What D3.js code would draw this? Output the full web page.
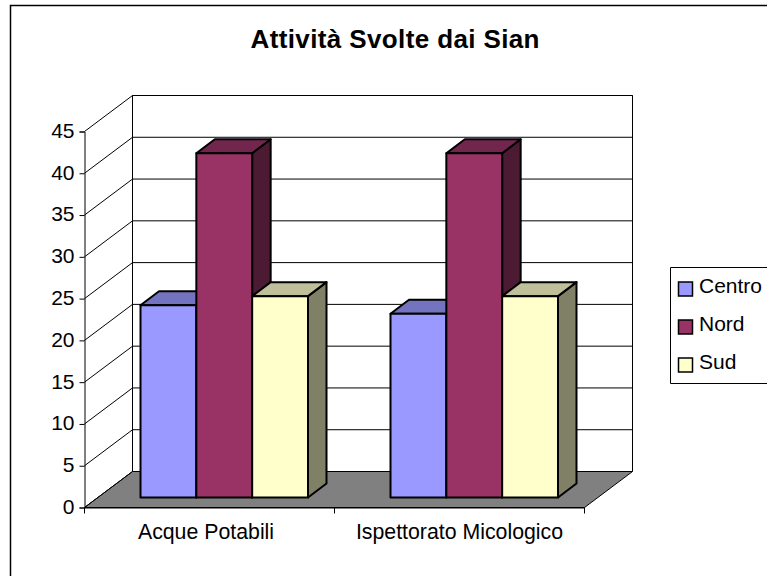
<!DOCTYPE html>
<html>
<head>
<meta charset="utf-8">
<script src="https://cdnjs.cloudflare.com/ajax/libs/d3/7.8.5/d3.min.js"></script>
<style>
  html, body { margin: 0; padding: 0; background: #fff; overflow: hidden; }
  text { font-family: "Liberation Sans", Arial, sans-serif; fill: #000; }
</style>
</head>
<body>
<div id="chart"></div>
<script>
/* DATA */
const categories = ["Acque Potabili", "Ispettorato Micologico"];
const seriesNames = ["Centro", "Nord", "Sud"];
const centro = [23, 22];
const nord = [41.2, 41.2];
const sud = [24.1, 24.1];
const yTicks = [0, 5, 10, 15, 20, 25, 30, 35, 40, 45];
const title = "Attività Svolte dai Sian";

const seriesValues = [centro, nord, sud];
const faceColors = ["#9999FF", "#993366", "#FFFFCC"];
const topColors = ["#7373BF", "#73264D", "#BFBF99"];
const sideColors = ["#4D4D80", "#4D1A33", "#808066"];

/* CONSTANTS AND GLOBALS */
const width = 767, height = 576;
const left = 84.5, right = 584.5, bottom = 507.5, topY = 131.5;
// 3d offsets of the back wall, and of the bars inside the floor
const wallX = 48, wallY = -36;
const gapX = 13, gapY = -10;
const barX = 18.5, barY = -14;

const svg = d3.select("#chart").append("svg")
  .attr("width", width)
  .attr("height", height);

// SCALES
const x0 = d3.scaleBand().domain(categories).range([left, right]);
const x1 = d3.scaleBand().domain(seriesNames).range([56, 223.5]);
const y = d3.scaleLinear().domain([0, 45]).range([bottom, topY]);

// outer frame, cut by the page on the right and at the bottom
svg.append("path")
  .attr("d", "M10.5," + height + "V5.5H" + width)
  .attr("fill", "none")
  .attr("stroke", "#000")
  .attr("stroke-width", 1.5);

svg.append("text")
  .attr("x", 395)
  .attr("y", 47.5)
  .attr("text-anchor", "middle")
  .attr("font-size", 26)
  .attr("font-weight", "bold")
  .attr("textLength", 289)
  .text(title);

// floor
svg.append("polygon")
  .attr("points", [
    [left, bottom], [right, bottom],
    [right + wallX, bottom + wallY], [left + wallX, bottom + wallY]
  ].join(" "))
  .attr("fill", "#808080")
  .attr("stroke", "#000");

// back wall and side wall
svg.append("path")
  .attr("d", "M" + (left + wallX) + "," + (bottom + wallY) +
    "V" + (topY + wallY) + "H" + (right + wallX) + "V" + (bottom + wallY))
  .attr("fill", "none")
  .attr("stroke", "#000");

const grid = svg.append("g");
grid.selectAll(".grid-back")
  .data(yTicks.slice(1))
  .enter().append("line")
  .attr("x1", left + wallX)
  .attr("x2", right + wallX)
  .attr("y1", d => y(d) + wallY)
  .attr("y2", d => y(d) + wallY)
  .attr("stroke", "#000");
grid.selectAll(".grid-side")
  .data(yTicks)
  .enter().append("line")
  .attr("x1", left)
  .attr("x2", left + wallX)
  .attr("y1", d => y(d))
  .attr("y2", d => y(d) + wallY)
  .attr("stroke", "#000");

// y axis
const yAxis = svg.append("g")
  .attr("transform", "translate(" + left + ",0)")
  .call(d3.axisLeft(y).tickValues(yTicks).tickSize(5).tickPadding(5));
yAxis.selectAll("text").attr("font-size", 21).attr("font-family", null).attr("dy", "0.28em");
yAxis.selectAll("path, line").attr("stroke", "#000");

// x axis, ticks sit between the categories so they are drawn apart from the labels
const xAxis = svg.append("g")
  .attr("transform", "translate(0," + bottom + ")")
  .call(d3.axisBottom(x0).tickSize(0).tickPadding(16));
xAxis.selectAll("text")
  .attr("font-size", 21.3)
  .attr("font-family", null)
  .attr("x", (d, i) => i == 0 ? -3.5 : 0);
xAxis.select(".domain").attr("stroke", "#000");
xAxis.selectAll(".edge")
  .data(categories.map(d => x0(d)).concat([x0.range()[1]]))
  .enter().append("line")
  .attr("x1", d => d)
  .attr("x2", d => d)
  .attr("y1", 0)
  .attr("y2", 6)
  .attr("stroke", "#000");

// bars
const rows = [];
categories.forEach((c, i) => {
  seriesNames.forEach((s, j) => {
    rows.push({ category: c, series: s, index: j, value: seriesValues[j][i] });
  });
});

const bars = svg.selectAll(".bar")
  .data(rows)
  .enter().append("g")
  .attr("class", "bar")
  .attr("stroke", "#000")
  .attr("stroke-width", 2)
  .attr("stroke-linejoin", "round")
  .attr("transform", d => "translate(" + (x0(d.category) + x1(d.series)) + ",0)");

bars.append("polygon")
  .attr("points", d => {
    const t = y(d.value) + gapY;
    const b = y(0) + gapY;
    const w = x1.bandwidth();
    return [[w, t], [w + barX, t + barY], [w + barX, b + barY], [w, b]].join(" ");
  })
  .attr("fill", d => sideColors[d.index]);

bars.append("polygon")
  .attr("points", d => {
    const t = y(d.value) + gapY;
    const w = x1.bandwidth();
    return [[0, t], [barX, t + barY], [w + barX, t + barY], [w, t]].join(" ");
  })
  .attr("fill", d => topColors[d.index]);

bars.append("rect")
  .attr("x", 0)
  .attr("y", d => y(d.value) + gapY)
  .attr("width", x1.bandwidth())
  .attr("height", d => y(0) - y(d.value))
  .attr("fill", d => faceColors[d.index]);

// legend, also cut by the page on the right
svg.append("path")
  .attr("d", "M" + width + ",267.5H670.5V383.5H" + width)
  .attr("fill", "none")
  .attr("stroke", "#000");

const legendY = d3.scaleBand().domain(seriesNames).range([270, 384]);
const legend = svg.selectAll(".legend")
  .data(seriesNames)
  .enter().append("g")
  .attr("class", "legend")
  .attr("transform", d => "translate(0," + legendY(d) + ")");

legend.append("rect")
  .attr("x", 678.5)
  .attr("y", 12)
  .attr("width", 14)
  .attr("height", 14)
  .attr("fill", (d, i) => faceColors[i])
  .attr("stroke", "#000")
  .attr("stroke-width", 1.5);

legend.append("text")
  .attr("x", 699)
  .attr("y", 23)
  .attr("font-size", 21)
  .text(d => d);
</script>
</body>
</html>
